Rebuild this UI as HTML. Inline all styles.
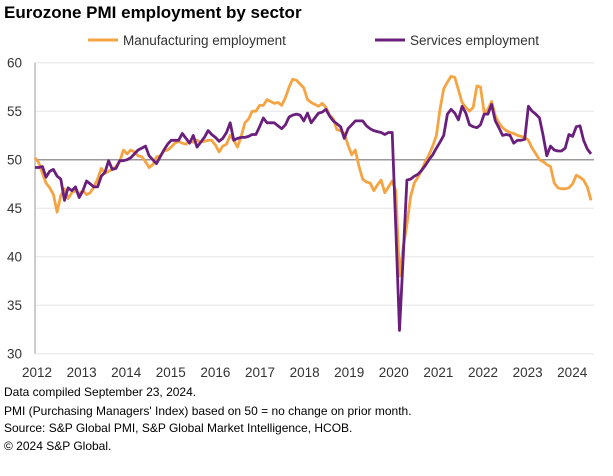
<!DOCTYPE html>
<html><head><meta charset="utf-8"><style>
body{margin:0;background:#fff;width:613px;height:471px;overflow:hidden;font-family:"Liberation Sans",sans-serif;}
svg text{font-family:"Liberation Sans",sans-serif;}
</style></head><body>
<svg id="chart" width="613" height="471">
<text x="4" y="18" font-size="17" font-weight="bold" fill="#000">Eurozone PMI employment by sector</text>
<g>
<line x1="88" y1="40" x2="118" y2="40" stroke="#F4A442" stroke-width="3"/>
<text x="123" y="45" font-size="13.5" fill="#333">Manufacturing employment</text>
<line x1="375" y1="40" x2="405" y2="40" stroke="#6B1F7C" stroke-width="3"/>
<text x="410" y="45" font-size="13.5" fill="#333">Services employment</text>
</g>
<g id="grid"></g><g id="axes"></g><g id="series"></g>
<g font-size="12" fill="#000">
<text x="4" y="396">Data compiled September 23, 2024.</text>
<text x="4" y="415">PMI (Purchasing Managers' Index) based on 50 = no change on prior month.</text>
<text x="4" y="432">Source: S&amp;P Global PMI, S&amp;P Global Market Intelligence, HCOB.</text>
<text x="4" y="450">© 2024 S&amp;P Global.</text>
</g>
</svg>
<script>
const yTicks=[30,35,40,45,50,55,60];
const years=["2012","2013","2014","2015","2016","2017","2018","2019","2020","2021","2022","2023","2024"];
const manufacturing=[
50.2,49.7,48.6,47.6,47.1,46.4,44.6,46.3,47.0,46.0,46.6,46.8,
46.5,46.8,46.4,46.6,47.2,48.0,49.1,48.6,48.8,49.0,49.3,49.8,
51.0,50.6,51.0,50.8,50.4,50.3,49.8,49.2,49.5,50.3,50.4,50.9,
51.0,51.3,51.7,51.9,51.7,51.6,51.9,51.8,52.0,51.8,51.9,52.0,
52.0,51.5,50.8,51.4,51.6,52.5,52.0,51.3,52.4,53.8,54.2,55.0,
55.0,55.6,55.6,56.2,56.0,55.8,55.9,55.6,56.4,57.5,58.3,58.2,
57.8,57.4,56.2,55.9,55.7,55.5,55.8,55.4,54.6,54.2,53.1,53.0,
52.7,51.5,50.5,51.0,49.3,48.0,47.7,47.6,46.8,47.4,47.9,46.6,
47.2,47.8,46.8,38.0,41.0,43.3,46.2,47.6,48.2,48.9,49.8,50.5,
51.4,52.5,55.2,57.3,58.0,58.6,58.5,57.2,55.9,55.4,55.0,55.4,
57.6,57.5,54.8,55.2,56.0,54.5,53.8,53.3,53.0,52.8,52.7,52.5,
52.4,52.3,52.0,51.2,50.6,50.0,49.8,49.5,49.3,47.6,47.1,47.0,
47.0,47.1,47.5,48.4,48.2,47.9,47.2,45.8];
const services=[
49.2,49.2,49.3,48.2,48.8,49.0,48.3,48.0,45.8,47.1,46.8,47.2,
46.1,46.8,47.8,47.5,47.2,47.2,48.3,48.7,49.9,49.0,49.1,49.9,
49.9,50.0,50.2,50.6,51.0,51.2,51.4,50.4,50.0,49.6,50.3,51.0,
51.6,52.0,52.0,52.0,52.7,52.2,51.7,52.5,51.3,51.8,52.3,53.0,
52.6,52.3,51.9,52.2,52.8,53.8,52.0,52.2,52.3,52.3,52.4,52.6,
52.6,53.4,54.3,53.8,53.8,53.8,53.5,53.2,53.6,54.4,54.6,54.7,
54.6,54.0,54.8,53.8,54.3,54.8,54.9,55.2,54.5,54.0,53.7,53.4,
52.2,53.2,53.6,54.0,54.0,54.0,53.5,53.2,53.0,52.9,52.8,52.6,
52.8,52.8,43.0,32.4,40.0,47.9,48.0,48.3,48.5,48.9,49.4,50.0,
50.5,51.2,51.8,52.5,54.7,55.2,54.8,54.1,55.5,54.8,53.6,53.4,
53.3,53.6,54.7,54.7,55.7,54.0,53.3,52.5,52.6,52.5,51.7,52.0,
52.0,52.1,55.5,55.0,54.7,54.3,52.5,50.4,51.4,51.0,50.9,50.9,
51.2,52.6,52.4,53.4,53.5,52.0,51.1,50.6];
const NS="http://www.w3.org/2000/svg";
const X0=35,X1=591,PR=594;
function xs(i){return X0+i*(X1-X0)/(manufacturing.length-1);}
function ys(v){return 62.7+(60-v)*9.7;}
function mk(t,a,p){const e=document.createElementNS(NS,t);for(const k in a)e.setAttribute(k,a[k]);p.appendChild(e);return e;}
const grid=document.getElementById('grid'),axes=document.getElementById('axes'),ser=document.getElementById('series');
yTicks.forEach(v=>{
 if(v!==50){const g=mk('line',{x1:X0,x2:PR,y1:ys(v),y2:ys(v),stroke:'#e6e6e6','stroke-width':1},grid);
 
 }
 const t=mk('text',{x:22,y:ys(v)+5,'font-size':13.5,fill:'#333','text-anchor':'end'},axes);
 t.textContent=v;
 
 
});
const ax=mk('line',{x1:X0,x2:X0,y1:ys(60),y2:ys(30),stroke:'#bbb','stroke-width':1.5},axes);


const ref=mk('line',{x1:X0,x2:PR,y1:ys(50),y2:ys(50),stroke:'#999','stroke-width':1.5},axes);


years.forEach((y,i)=>{
 const t=mk('text',{x:37+i*44.6,y:377,'font-size':13.5,fill:'#333','text-anchor':'middle'},axes);
 t.textContent=y;
 
 
});
function line(arr,col,name){
 const d=arr.map((v,i)=>(i?'L':'M')+xs(i).toFixed(1)+' '+ys(v).toFixed(1)).join(' ');
 const p=mk('path',{d:d,fill:'none',stroke:col,'stroke-width':2.8,'stroke-linejoin':'round'},ser);
 
 
}
line(manufacturing,'#F4A442','manufacturing-employment-line');
line(services,'#6B1F7C','services-employment-line');
</script>
</body></html>
